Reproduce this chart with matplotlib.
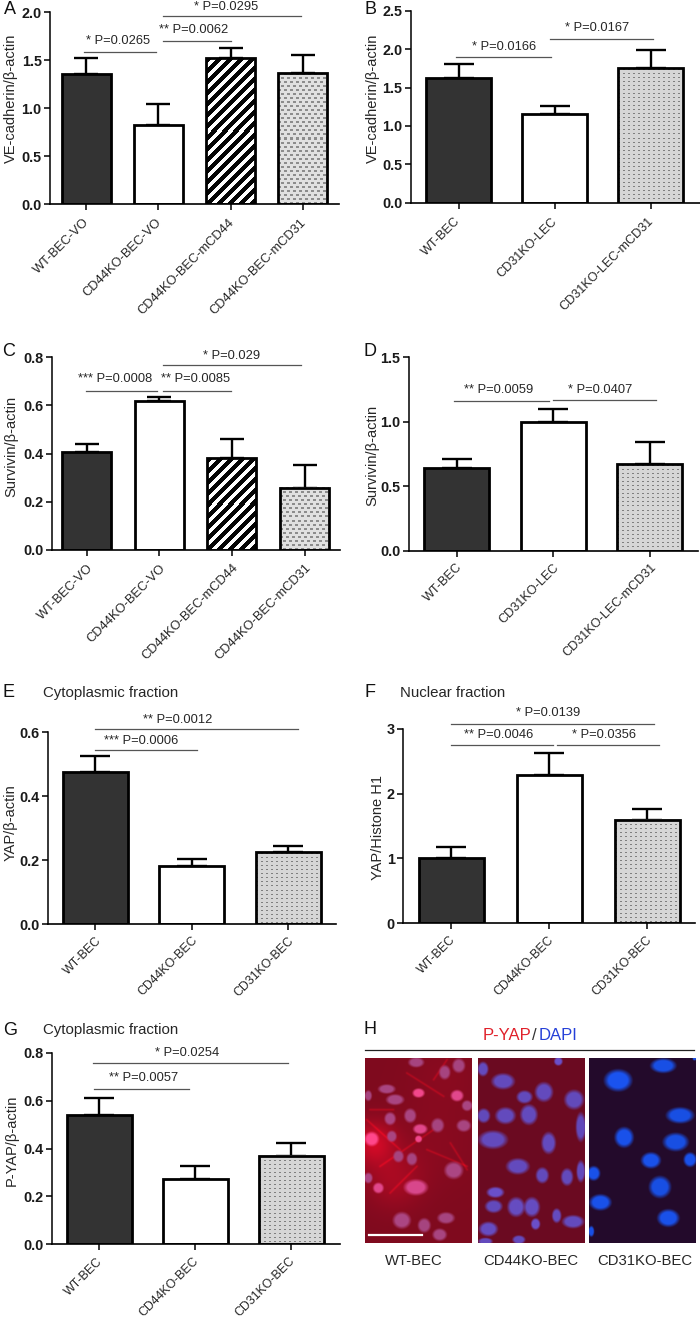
import numpy as np
import matplotlib
matplotlib.use("Agg")
import matplotlib.pyplot as plt
from matplotlib.transforms import Affine2D, ScaledTranslation

plt.rcParams['font.family'] = ['Liberation Sans', 'DejaVu Sans']

W, H = 700, 1319
DARK = '#333333'
TXT = '#262626'

# ---- data ----
labels_A = ['WT-BEC-VO', 'CD44KO-BEC-VO', 'CD44KO-BEC-mCD44', 'CD44KO-BEC-mCD31']
values_A = [1.35, 0.82, 1.52, 1.36]
tops_A = [1.52, 1.04, 1.62, 1.55]

labels_B = ['WT-BEC', 'CD31KO-LEC', 'CD31KO-LEC-mCD31']
values_B = [1.62, 1.15, 1.75]
tops_B = [1.80, 1.26, 1.99]

labels_C = labels_A
values_C = [0.405, 0.617, 0.38, 0.258]
tops_C = [0.44, 0.635, 0.462, 0.354]

labels_D = labels_B
values_D = [0.645, 1.0, 0.67]
tops_D = [0.715, 1.10, 0.84]

labels_E = ['WT-BEC', 'CD44KO-BEC', 'CD31KO-BEC']
values_E = [0.477, 0.18, 0.224]
tops_E = [0.525, 0.202, 0.245]

values_F = [1.0, 2.29, 1.59]
tops_F = [1.17, 2.63, 1.76]

values_G = [0.54, 0.275, 0.37]
tops_G = [0.61, 0.328, 0.422]

# ---- layout, in reference pixels ----
fig = plt.figure(figsize=(W / 100, H / 100), dpi=100, facecolor='white')
px = Affine2D().scale(1 / W, -1 / H).translate(0, 1) + fig.transFigure


def texture(kind, wpx, hpx):
    yy, xx = np.mgrid[0:hpx, 0:wpx]
    img = np.ones((hpx, wpx, 3))
    if kind == 'stripes':
        m = ((xx + yy) % 11) < 5.5
        img[m] = 0.02
    elif kind == 'dots':
        img[:] = 0.84
        m = (xx % 5 < 2) & (yy % 4 == 1)
        img[m] = 0.50
    elif kind == 'mesh':
        img[:] = 0.88
        m = ((xx + 3 * (yy // 4 % 2)) % 6 < 3) & (yy % 4 < 2)
        img[m] = 0.55
    return img


def panel(left, right, top, bottom, ylim, yticks, fmt, centers, width, values, tops,
          labels, styles, ylabel, ylabel_x, ylabel_y, lab_size, lab_dx, lab_dy):
    ax = fig.add_axes([left / W, 1 - bottom / H, (right - left) / W, (bottom - top) / H])
    spacing = centers[1] - centers[0]
    xs = np.arange(len(values), dtype=float)
    x0 = -(centers[0] - left) / spacing
    x1 = (right - centers[0]) / spacing
    ax.set_xlim(x0, x1)
    ax.set_ylim(*ylim)
    w = width / spacing
    ax.errorbar(xs, values, yerr=[np.zeros(len(xs)), np.array(tops) - np.array(values)],
                fmt='none', ecolor='black', elinewidth=1.7, capthick=1.7,
                capsize=0.235 * width * 0.72, zorder=1)
    upp = (ylim[1] - ylim[0]) / (bottom - top)
    for x, v, st in zip(xs, values, styles):
        fc = DARK if st == 'dark' else 'white'
        ax.bar(x, v, w, color=fc, edgecolor='none', zorder=2)
        if st in ('stripes', 'dots', 'mesh'):
            tex = texture(st, int(width), max(1, int(v / upp)))
            ax.imshow(tex, extent=(x - w / 2, x + w / 2, 0, v), aspect='auto',
                      interpolation='nearest', zorder=2.5)
        ax.bar(x, v, w, color='none', edgecolor='black', linewidth=2.0, zorder=3)
    ax.set_xlim(x0, x1)
    ax.set_ylim(*ylim)
    for s in ('top', 'right'):
        ax.spines[s].set_visible(False)
    ax.spines['left'].set_linewidth(1.1)
    ax.spines['bottom'].set_linewidth(1.2)
    ax.set_xticks(xs)
    ax.set_xticklabels(labels, rotation=45, ha='right', va='top', rotation_mode='anchor',
                       fontsize=lab_size, color=TXT)
    ax.set_yticks(yticks)
    ax.set_yticklabels([fmt % t for t in yticks], fontsize=10.4, fontweight='bold', color='#1a1a1a')
    ax.tick_params(axis='both', length=4, width=1.1, pad=2)
    ax.tick_params(axis='x', pad=3.5)
    off = ScaledTranslation(lab_dx / 100, -lab_dy / 100, fig.dpi_scale_trans)
    for t in ax.get_xticklabels():
        t.set_transform(t.get_transform() + off)
    fig.text(ylabel_x, ylabel_y, ylabel, transform=px, rotation=90, ha='center',
             va='center', fontsize=10.5, color=TXT)
    return ax


def bracket(x0, x1, y, tx, ty, text):
    fig.add_artist(plt.Line2D([x0, x1], [y, y], transform=px, color='#555555', lw=0.9))
    fig.text(tx, ty, text, transform=px, ha='center', va='center', fontsize=9.3, color=TXT)


def letter(x, y, s):
    fig.text(x, y, s, transform=px, ha='center', va='center', fontsize=13, color='#111111')


S4 = ['dark', 'white', 'stripes', 'mesh']
S3 = ['dark', 'white', 'dots']

panel(50, 339, 12, 204, (0, 2), [0, .5, 1, 1.5, 2], '%.1f', [86, 158.3, 230.6, 303], 49,
      values_A, tops_A, labels_A, S4, 'VE-cadherin/β-actin', 11, 98, 9.3, -3, 2)
panel(410.7, 700, 10.7, 202.7, (0, 2.5), [0, .5, 1, 1.5, 2, 2.5], '%.1f', [458.7, 554.8, 651], 65,
      values_B, tops_B, labels_B, S3, 'VE-cadherin/β-actin', 373, 98, 9.1, -4, 2)
panel(51.7, 340, 357.3, 549.7, (0, .8), [0, .2, .4, .6, .8], '%.1f', [86.7, 159.3, 231.7, 304], 49,
      values_C, tops_C, labels_C, S4, 'Survivin/β-actin', 11, 446.7, 9.3, 0, 2)
panel(408.7, 698, 357.3, 550.7, (0, 1.5), [0, .5, 1, 1.5], '%.1f', [456.7, 553.3, 649.7], 65,
      values_D, tops_D, labels_D, S3, 'Survivin/β-actin', 372, 455.8, 9.1, 0, 0)
panel(47.7, 335.7, 732.3, 924, (0, .6), [0, .2, .4, .6], '%.1f', [95.3, 191.7, 287.7], 65,
      values_E, tops_E, labels_E, S3, 'YAP/β-actin', 11, 822.5, 8.9, 0, 0)
panel(403.3, 695, 728.7, 923.3, (0, 3), [0, 1, 2, 3], '%d', [451, 549, 646.7], 65,
      values_F, tops_F, labels_E, S3, 'YAP/Histone H1', 378, 827, 8.9, -1.5, 0)
panel(51.7, 340, 1053, 1244.3, (0, .8), [0, .2, .4, .6, .8], '%.1f', [99.3, 195.3, 291.3], 65,
      values_G, tops_G, labels_E, S3, 'P-YAP/β-actin', 12, 1140, 8.9, -3, 0.5)

bracket(84, 156, 52, 118, 40.7, '* P=0.0265')
bracket(163, 231, 40.7, 194, 30, '** P=0.0062')
bracket(163, 301, 15.7, 226, 6.7, '* P=0.0295')
bracket(456, 551.3, 57.3, 503.7, 46.7, '* P=0.0166')
bracket(550.3, 653.3, 39, 597, 28.3, '* P=0.0167')
bracket(85.7, 156.7, 390.7, 114.7, 379, '*** P=0.0008')
bracket(162.7, 231, 390.7, 196, 379, '** P=0.0085')
bracket(162.7, 300.7, 365, 231.7, 356, '* P=0.029')
bracket(454.3, 549.3, 400.7, 498.3, 390, '** P=0.0059')
bracket(553.3, 656, 400, 599.7, 390, '* P=0.0407')
bracket(95.3, 197.3, 749.7, 140.8, 741.3, '*** P=0.0006')
bracket(95, 297.7, 728.7, 177.5, 720, '** P=0.0012')
bracket(451, 552.7, 745.3, 498.7, 735, '** P=0.0046')
bracket(557.3, 659.3, 745.3, 603.8, 735, '* P=0.0356')
bracket(451, 654.3, 723.7, 548.3, 712.7, '* P=0.0139')
bracket(94, 189.3, 1089.3, 144, 1078.3, '** P=0.0057')
bracket(92.7, 287.7, 1063, 186.7, 1052.7, '* P=0.0254')

for x, y, s in [(10, 9, 'A'), (370, 9, 'B'), (9, 352, 'C'), (370, 352, 'D'),
                (8, 692.7, 'E'), (370, 692.7, 'F'), (10, 1030.7, 'G'), (370, 1029, 'H')]:
    letter(x, y, s)
for x, y, s in [(43, 692.7, 'Cytoplasmic fraction'), (400, 692.7, 'Nuclear fraction'),
                (43, 1030, 'Cytoplasmic fraction')]:
    fig.text(x, y, s, transform=px, ha='left', va='center', fontsize=10.8, color=TXT)

# ---- panel H: micrographs, nuclei as (x, y, rx, ry, brightness) in zoom-crop units ----
nuclei_1 = [(198, 158, 22, 14, .8), (283, 188, 16, 20, .8), (325, 168, 18, 20, .8), (110, 238, 24, 13, .9),
            (205, 250, 17, 13, 1.4), (320, 258, 18, 16, 1.3), (135, 270, 25, 15, .9), (350, 288, 15, 15, .9),
            (120, 327, 16, 18, .95), (180, 318, 17, 20, .9), (262, 347, 18, 20, .8), (340, 348, 20, 17, .85),
            (210, 358, 20, 14, 1.3), (65, 388, 20, 20, 1.6), (125, 380, 14, 16, .9), (205, 388, 10, 10, 1.4),
            (145, 440, 15, 17, .8), (185, 448, 15, 18, .8), (310, 482, 26, 24, .95), (85, 535, 15, 15, 1.3),
            (197, 533, 33, 22, 1.25), (155, 632, 25, 23, .95), (222, 647, 18, 20, .8), (287, 625, 24, 16, .8),
            (268, 675, 20, 17, .85), (55, 505, 12, 15, 1.0), (55, 258, 10, 15, .8)]
fibres_1 = [(50, 330, 150, 420), (90, 470, 250, 360), (120, 550, 200, 470), (250, 210, 290, 150),
            (230, 420, 350, 470), (60, 300, 130, 300), (300, 400, 350, 480), (170, 190, 280, 260)]
glows_1 = [(70, 400, 45, .6), (130, 510, 60, .3), (250, 400, 90, .08), (280, 200, 70, .08)]
nuclei_2 = [(398, 178, 15, 20, .9), (458, 215, 32, 22, .9), (580, 247, 25, 27, .9), (522, 262, 22, 18, .85),
            (670, 270, 27, 27, .85), (465, 318, 28, 23, .9), (535, 315, 24, 28, .9), (400, 318, 18, 20, .8),
            (428, 390, 40, 25, .9), (594, 400, 20, 30, .9), (690, 352, 14, 40, .8), (502, 470, 32, 22, .9),
            (575, 497, 18, 22, .85), (649, 502, 17, 24, .85), (690, 485, 12, 30, .9), (435, 548, 24, 15, 1.2),
            (430, 590, 24, 18, .85), (497, 592, 24, 27, 1.0), (544, 592, 22, 27, 1.0), (618, 618, 13, 20, .95),
            (667, 636, 30, 18, .9), (555, 643, 13, 16, 1.2), (414, 658, 26, 20, 1.0), (505, 690, 18, 12, .9),
            (405, 695, 20, 10, .9), (623, 155, 12, 12, 1.2)]
nuclei_3 = [(805, 212, 38, 30, 1.1), (940, 168, 35, 20, .9), (990, 317, 38, 22, .85), (823, 383, 26, 28, 1.0),
            (977, 397, 35, 25, .85), (903, 452, 27, 22, 1.0), (1020, 450, 18, 20, 1.0), (732, 491, 18, 20, 1.0),
            (930, 532, 30, 30, .85), (752, 578, 30, 22, 1.0), (955, 625, 30, 24, 1.0), (725, 665, 8, 15, .9),
            (1033, 147, 5, 5, 1.0)]


def micrograph(box, nuclei, bg, nuc, glows=(), fibres=()):
    x0, x1, y0, y1 = box
    wp, hp = int(round((x1 - x0) / 3 * 2)), int(round((y1 - y0) / 3 * 2))
    ys, xs = np.mgrid[0:hp, 0:wp]
    X = x0 + (xs + .5) * 1.5
    Y = y0 + (ys + .5) * 1.5
    img = np.ones((hp, wp, 3)) * np.array(bg)
    for gx, gy, gr, ga in glows:
        g = np.exp(-((X - gx) ** 2 + (Y - gy) ** 2) / (2 * gr ** 2)) * ga
        img[..., 0] += g * 0.5
        img[..., 2] += g * 0.05
    for fx0, fy0, fx1, fy1 in fibres:
        dx, dy = fx1 - fx0, fy1 - fy0
        t = np.clip(((X - fx0) * dx + (Y - fy0) * dy) / (dx * dx + dy * dy), 0, 1)
        d = np.hypot(X - fx0 - t * dx, Y - fy0 - t * dy)
        img[..., 0] += np.exp(-(d / 3) ** 2) * 0.18
    for cx, cy, rx, ry, b in nuclei:
        r = np.sqrt(((X - cx) / rx) ** 2 + ((Y - cy) / ry) ** 2)
        a = np.clip((1.2 - r) / 0.45, 0, 1)[..., None]
        col = np.array(nuc) * (0.8 + 0.2 * b)
        if b > 1.2 and nuc[0] > .5:
            col = np.array([min(1, nuc[0] * b), nuc[1] * 1.0, nuc[2] * 1.05])
        img = img * (1 - a) + col * a
    ax = fig.add_axes([(x0 / 3 + 350) / W, 1 - (1010 + y1 / 3) / H, (x1 - x0) / 3 / W, (y1 - y0) / 3 / H])
    ax.imshow(np.clip(img, 0, 1), aspect='auto', interpolation='bilinear')
    ax.axis('off')
    return ax


micrograph((45, 365, 145, 700), nuclei_1, (.50, .04, .12), (.68, .28, .52), glows_1, fibres_1)
micrograph((383, 702, 145, 700), nuclei_2, (.42, .04, .13), (.40, .30, .76))
micrograph((718, 1037, 145, 700), nuclei_3, (.14, .04, .17), (.10, .32, .92))

fig.add_artist(plt.Line2D([369.3, 421.7], [1235.3, 1235.3], transform=px, color='white', lw=1.6))
fig.add_artist(plt.Line2D([365, 694], [1049.7, 1049.7], transform=px, color='#222222', lw=0.9))
fig.text(482.7, 1036, 'P-YAP', transform=px, color='#e0202a', fontsize=12, ha='left', va='center')
fig.text(532.3, 1036, '/', transform=px, color='#333333', fontsize=12, ha='left', va='center')
fig.text(538.3, 1036, 'DAPI', transform=px, color='#2540d8', fontsize=12, ha='left', va='center')
for x, s in [(414, 'WT-BEC'), (530.8, 'CD44KO-BEC'), (644.8, 'CD31KO-BEC')]:
    fig.text(x, 1260.7, s, transform=px, color=TXT, fontsize=10.7, ha='center', va='center')

fig.savefig('out.png', dpi=100, facecolor='white')
